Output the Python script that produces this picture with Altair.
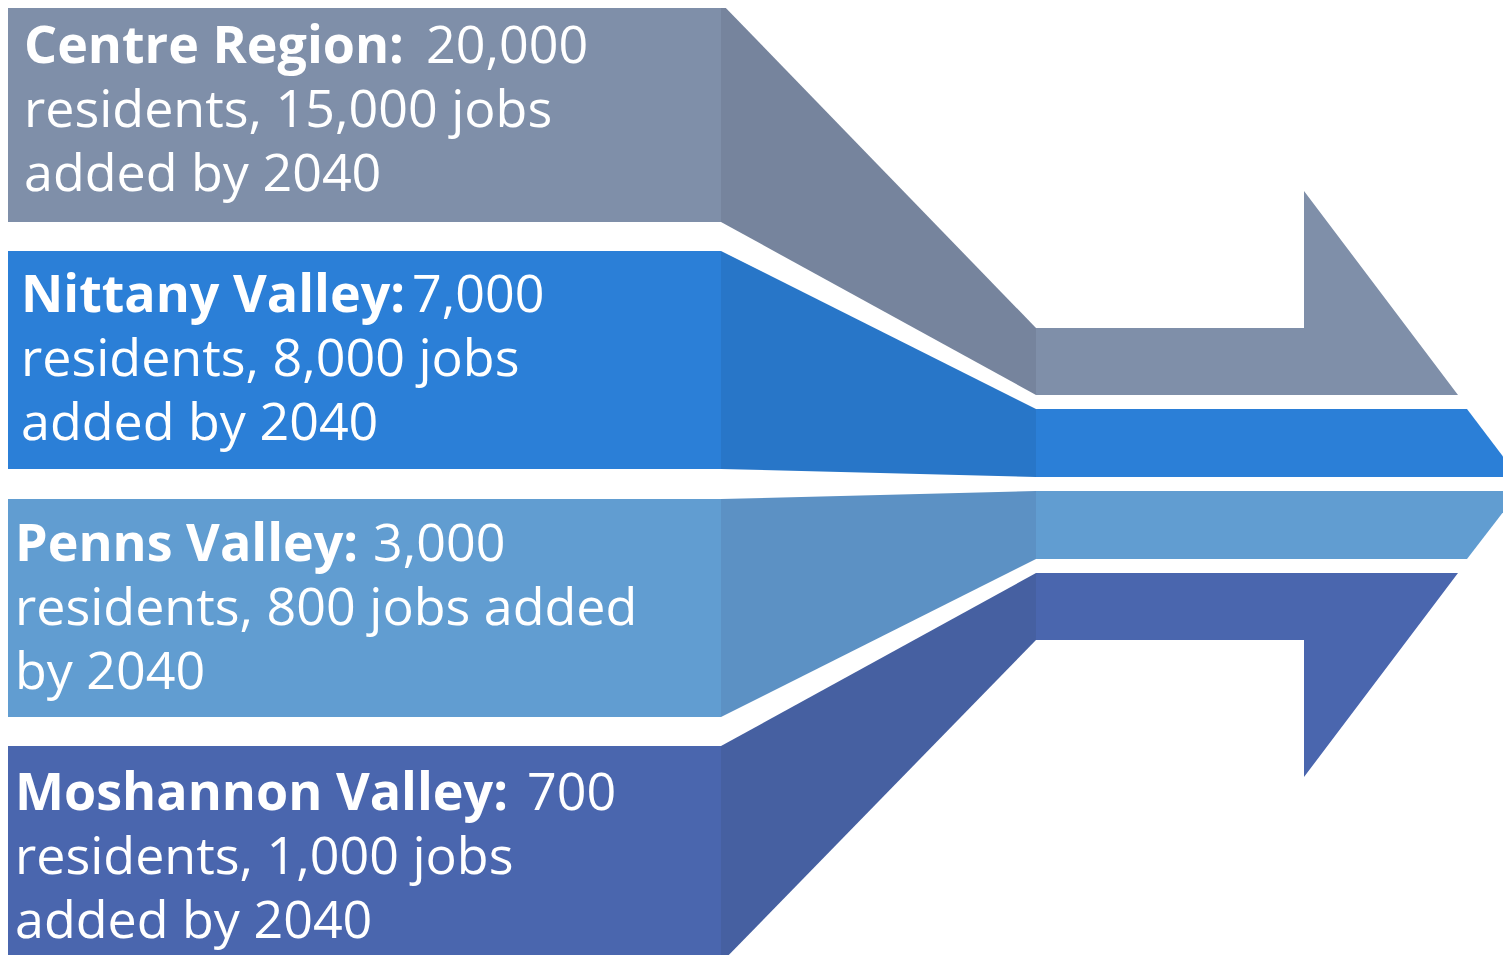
import altair as alt
import pandas as pd

# ---- content ----
regions = ["Centre Region", "Nittany Valley", "Penns Valley", "Moshannon Valley"]
residents = [20000, 7000, 3000, 700]
jobs = [15000, 8000, 800, 1000]
line2 = ["residents, {j} jobs", "residents, {j} jobs", "residents, {j} jobs added", "residents, {j} jobs"]
line3 = ["added by 2040", "added by 2040", "by 2040", "added by 2040"]

# ---- styling ----
main_colors = ["#7f8fa9", "#2b7fd7", "#619dd1", "#4a66ae"]
dark_colors = ["#76849d", "#2876c8", "#5c91c4", "#4660a1"]
FONT = "Open Sans"
FSIZE = 52

# ---- diagram geometry (canvas units, y downward) ----
band_top = [3, 251, 499, 746]
band_bot = [222, 469, 717, 963]
neck_top = [328, 409, 491, 573]
neck_bot = [395, 477, 559, 640]
x_band_end = 721
x_neck = 1036
# arrow-head outline points (between the neck's top and bottom corners)
head_pts = [
    [(1304, 328), (1304, 191), (1458, 395)],
    [(1467, 409), (1511, 467), (1511, 477)],
    [(1511, 491), (1511, 502), (1467, 559)],
    [(1458, 573), (1304, 777), (1304, 640)],
]

# text layout
text_x = [24, 21, 15, 15]
value_x = [426, 412, 373, 527]
baseline1 = [63, 312, 561, 810]
line_gap = 64


def feature(points, color):
    ring = [list(p) for p in points] + [list(points[0])]
    return {"type": "Feature", "properties": {"c": color},
            "geometry": {"type": "Polygon", "coordinates": [ring]}}


features = []
for k in range(4):
    features.append(feature([(0, band_top[k]), (x_band_end, band_top[k]),
                             (x_band_end, band_bot[k]), (0, band_bot[k])], main_colors[k]))
    features.append(feature([(x_band_end, band_top[k]), (x_neck, neck_top[k]),
                             (x_neck, neck_bot[k]), (x_band_end, band_bot[k])], dark_colors[k]))
    features.append(feature([(x_neck, neck_top[k])] + head_pts[k] + [(x_neck, neck_bot[k])],
                            main_colors[k]))

texts = []
for k in range(4):
    texts.append(dict(x=text_x[k], y=baseline1[k], t=regions[k] + ":", w="bold"))
    texts.append(dict(x=value_x[k], y=baseline1[k], t=f"{residents[k]:,}", w="normal"))
    texts.append(dict(x=text_x[k], y=baseline1[k] + line_gap, t=line2[k].format(j=f"{jobs[k]:,}"), w="normal"))
    texts.append(dict(x=text_x[k], y=baseline1[k] + 2 * line_gap, t=line3[k], w="normal"))
tdf = pd.DataFrame(texts)

W, H = 1495, 947
proj = dict(type="identity", scale=1, translate=[-8, -8])

shapes = alt.Chart(alt.Data(values=features)).mark_geoshape(strokeWidth=0).encode(
    color=alt.Color("properties.c:N", scale=None)
).project(**proj)

bold = alt.Chart(tdf[tdf.w == "bold"]).mark_text(
    align="left", baseline="alphabetic", font=FONT, fontSize=FSIZE, fontWeight="bold", color="white"
).encode(longitude="x:Q", latitude="y:Q", text="t:N").project(**proj)

normal = alt.Chart(tdf[tdf.w == "normal"]).mark_text(
    align="left", baseline="alphabetic", font=FONT, fontSize=FSIZE, fontWeight="normal", color="white"
).encode(longitude="x:Q", latitude="y:Q", text="t:N").project(**proj)

chart = alt.layer(shapes, bold, normal).properties(
    width=W, height=H, padding=0, autosize=alt.AutoSizeParams(type="none")
).configure_view(strokeWidth=0)

chart.save("out.html", embed_options={"renderer": "svg", "actions": False})
